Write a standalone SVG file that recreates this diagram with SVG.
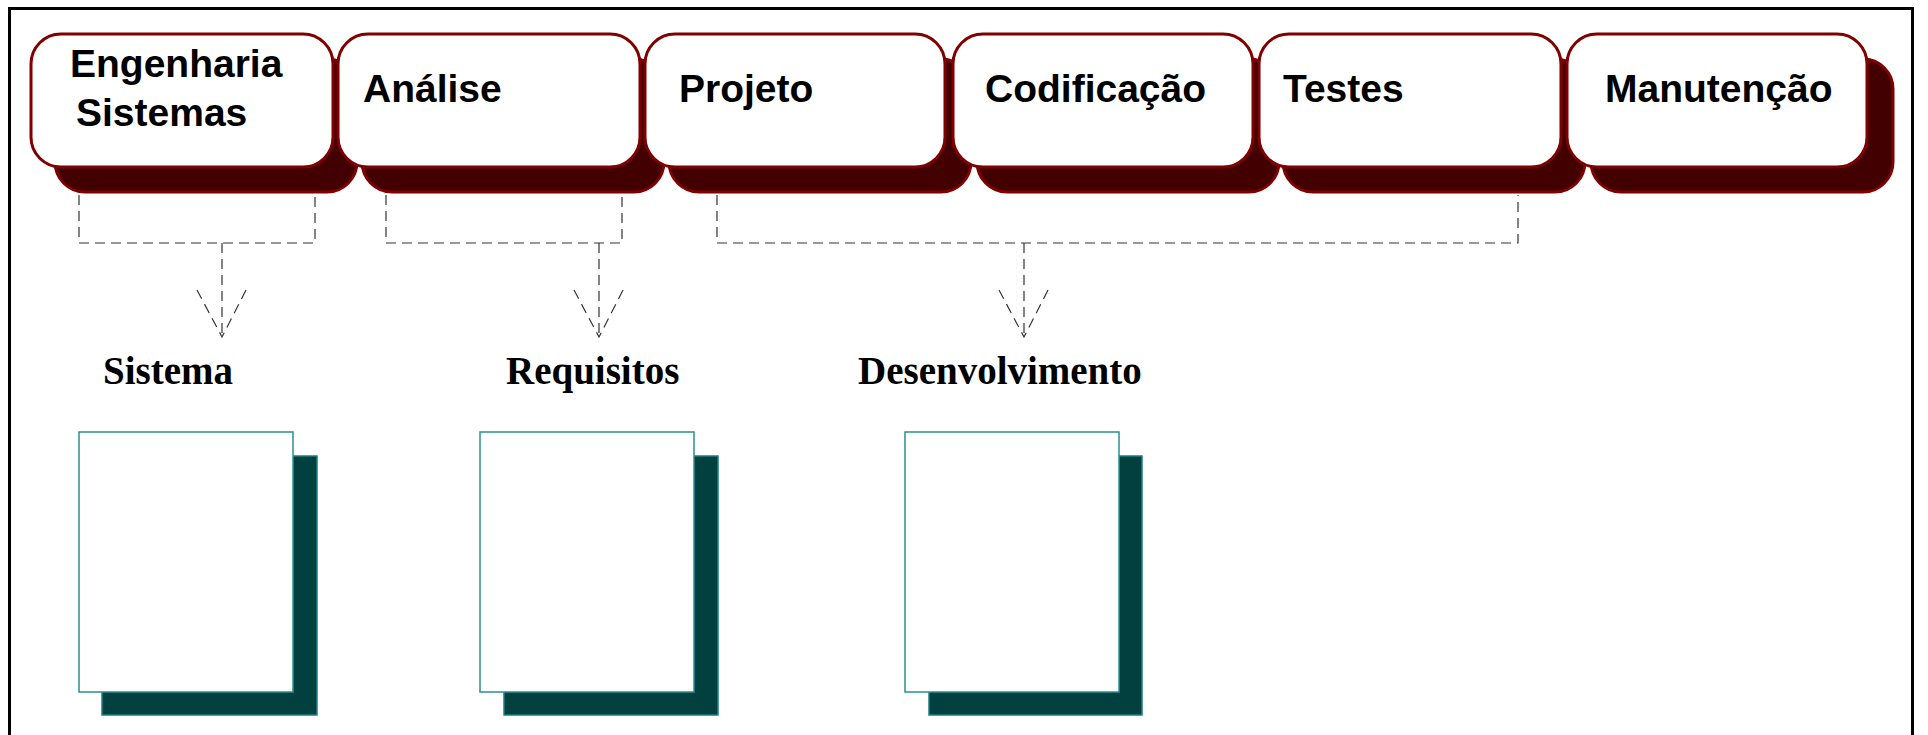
<svg xmlns="http://www.w3.org/2000/svg" width="1928" height="735" viewBox="0 0 1928 735">
<style>
.sh{fill:#420000;stroke:#800000;stroke-width:3}
.fr{fill:#ffffff;stroke:#800000;stroke-width:3}
.lbl{font-family:"Liberation Sans",Arial,sans-serif;font-weight:bold;font-size:39px;fill:#000}
.out{font-family:"Liberation Serif","Times New Roman",serif;font-weight:bold;font-size:39px;fill:#000}
.dash{fill:none;stroke:#333;stroke-width:1.2;stroke-dasharray:10 6}
.dsh{fill:#024040;stroke:#1a8080;stroke-width:1.5}
.dfr{fill:#ffffff;stroke:#2a9090;stroke-width:1.5}
</style>
<rect x="0" y="0" width="1928" height="735" fill="#fff"/>
<rect x="9.5" y="8.5" width="1903" height="760" fill="none" stroke="#000" stroke-width="3"/>

<g id="node-engenharia">
<rect class="sh" x="55" y="59" width="302" height="133" rx="30"/>
<rect class="fr" x="31" y="34" width="302" height="133" rx="30"/>
<text class="lbl" x="70" y="77">Engenharia</text>
<text class="lbl" x="76" y="126">Sistemas</text>
</g>
<g id="node-analise">
<rect class="sh" x="362" y="59" width="302" height="133" rx="30"/>
<rect class="fr" x="338" y="34" width="302" height="133" rx="30"/>
<text class="lbl" x="363" y="102">Análise</text>
</g>
<g id="node-projeto">
<rect class="sh" x="669" y="59" width="302" height="133" rx="30"/>
<rect class="fr" x="645" y="34" width="300" height="133" rx="30"/>
<text class="lbl" x="679" y="102">Projeto</text>
</g>
<g id="node-codificacao">
<rect class="sh" x="977" y="59" width="302" height="133" rx="30"/>
<rect class="fr" x="953" y="34" width="300" height="133" rx="30"/>
<text class="lbl" x="985" y="102">Codificação</text>
</g>
<g id="node-testes">
<rect class="sh" x="1283" y="59" width="302" height="133" rx="30"/>
<rect class="fr" x="1259" y="34" width="302" height="133" rx="30"/>
<text class="lbl" x="1283" y="102">Testes</text>
</g>
<g id="node-manutencao">
<rect class="sh" x="1591" y="59" width="302" height="133" rx="30"/>
<rect class="fr" x="1567" y="34" width="300" height="133" rx="30"/>
<text class="lbl" x="1605" y="102">Manutenção</text>
</g>

<g id="connectors">
<path class="dash" d="M79 195 V243 H315 V195"/>
<path class="dash" d="M222 243 V337"/>
<path class="dash" d="M197 290 L222 337 L246 290"/>
<path class="dash" d="M386 195 V243 H622 V195"/>
<path class="dash" d="M599 243 V337"/>
<path class="dash" d="M574 290 L599 337 L623 290"/>
<path class="dash" d="M717 195 V243 H1518 V195"/>
<path class="dash" d="M1024 243 V337"/>
<path class="dash" d="M999 290 L1024 337 L1048 290"/>
</g>

<g id="out-sistema">
<text class="out" x="103" y="384">Sistema</text>
<rect class="dsh" x="102" y="456" width="215" height="259"/>
<rect class="dfr" x="79" y="432" width="214" height="260"/>
</g>
<g id="out-requisitos">
<text class="out" x="506" y="384">Requisitos</text>
<rect class="dsh" x="504" y="456" width="214" height="259"/>
<rect class="dfr" x="480" y="432" width="214" height="260"/>
</g>
<g id="out-desenvolvimento">
<text class="out" x="858" y="384">Desenvolvimento</text>
<rect class="dsh" x="929" y="456" width="213" height="259"/>
<rect class="dfr" x="905" y="432" width="214" height="260"/>
</g>
</svg>
